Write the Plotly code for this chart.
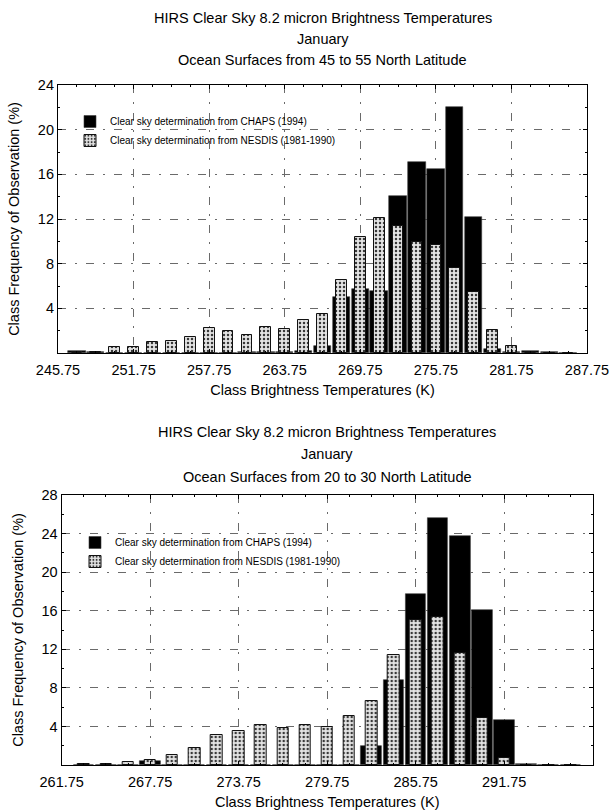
import plotly.graph_objects as go

# HIRS clear-sky 8.2 micron brightness temperature class frequencies (%), January, ocean surfaces.
# Class centres are 1.5 K apart.

# 45-55 N
bins_45_55 = [247.25, 248.75, 250.25, 251.75, 253.25, 254.75, 256.25, 257.75, 259.25,
              260.75, 262.25, 263.75, 265.25, 266.75, 268.25, 269.75, 271.25, 272.75,
              274.25, 275.75, 277.25, 278.75, 280.25, 281.75, 283.25, 284.75, 286.25]
chaps_45_55 = [0.15, 0.1, 0.0, 0.0, 0.0, 0.0, 0.0, 0.0, 0.0,
               0.1, 0.1, 0.1, 0.15, 0.6, 5.05, 5.75, 5.55, 14.05,
               17.1, 16.5, 22.0, 12.2, 0.35, 0.05, 0.2, 0.05, 0.0]
nesdis_45_55 = [0.05, 0.05, 0.5, 0.5, 1.0, 1.1, 1.45, 2.2, 1.95,
                1.65, 2.35, 2.15, 3.0, 3.5, 6.5, 10.4, 12.1, 11.35,
                9.95, 9.7, 7.65, 5.45, 2.05, 0.65, 0.1, 0.0, 0.0]

# 20-30 N
bins_20_30 = [263.25, 264.75, 266.25, 267.75, 269.25, 270.75, 272.25, 273.75, 275.25,
              276.75, 278.25, 279.75, 281.25, 282.75, 284.25, 285.75, 287.25, 288.75,
              290.25, 291.75, 293.25, 294.75, 296.25]
chaps_20_30 = [0.0, 0.0, 0.05, 0.4, 0.0, 0.0, 0.0, 0.0, 0.0,
               0.0, 0.0, 0.0, 0.0, 1.95, 8.8, 17.7, 25.6, 23.8,
               16.1, 4.7, 0.1, 0.05, 0.0]
nesdis_20_30 = [0.1, 0.1, 0.35, 0.5, 1.0, 1.75, 3.15, 3.55, 4.1,
                3.85, 4.1, 3.95, 5.05, 6.6, 11.4, 15.05, 15.35, 11.6,
                4.9, 0.75, 0.0, 0.0, 0.0]

xticks_45_55 = [245.75, 251.75, 257.75, 263.75, 269.75, 275.75, 281.75, 287.75]
xticks_20_30 = [261.75, 267.75, 273.75, 279.75, 285.75, 291.75, 297.75]
yticks_45_55 = [4, 8, 12, 16, 20, 24]
yticks_20_30 = [4, 8, 12, 16, 20, 24, 28]

NAME_CHAPS = "Clear sky determination from CHAPS (1994)"
NAME_NESDIS = "Clear sky determination from NESDIS (1981-1990)"
TITLE_1 = "HIRS Clear Sky 8.2 micron Brightness Temperatures"
TITLE_2 = "January"
TITLE_3A = "Ocean Surfaces from 45 to 55 North Latitude"
TITLE_3B = "Ocean Surfaces from 20 to 30 North Latitude"
XTITLE = "Class Brightness Temperatures (K)"
YTITLE = "Class Frequency of Observation (%)"

W, H = 613, 811
FONT = "Liberation Sans, Arial, Helvetica, sans-serif"


def fx(p):
    return p / W


def fy(p):
    return 1 - p / H


DOTS = dict(shape=".", fgcolor="#383838", bgcolor="#e4e4e4", size=4, solidity=0.3)
GRID_DASH = "8px,9px,2px,9px"

panels = [
    dict(x="x", y="y", legend="legend", bins=bins_45_55, chaps=chaps_45_55, nesdis=nesdis_45_55,
         wide=1.38, narrow=0.85),
    dict(x="x2", y="y2", legend="legend2", bins=bins_20_30, chaps=chaps_20_30, nesdis=nesdis_20_30,
         wide=1.40, narrow=0.78),
]

fig = go.Figure()
for p in panels:
    fig.add_trace(go.Bar(
        x=p["bins"], y=p["chaps"], name=NAME_CHAPS, xaxis=p["x"], yaxis=p["y"],
        legend=p["legend"], width=p["wide"],
        marker=dict(color="#000000", line=dict(color="#3a3a3a", width=0.6)),
    ))
    fig.add_trace(go.Bar(
        x=p["bins"], y=p["nesdis"], name=NAME_NESDIS, xaxis=p["x"], yaxis=p["y"],
        legend=p["legend"], width=p["narrow"],
        marker=dict(color="#e4e4e4", pattern=DOTS, line=dict(color="#111111", width=1)),
    ))


def xaxis_style(domain, anchor, ticks, minor0):
    return dict(
        domain=domain, anchor=anchor, range=[ticks[0], ticks[-1]],
        tickvals=ticks, tickformat=".2f", ticklabelstandoff=3,
        ticks="inside", ticklen=4, tickcolor="#000", mirror="allticks",
        showline=True, linecolor="#000", linewidth=1.2,
        showgrid=True, gridcolor="#6a6a6a", gridwidth=0.8, griddash=GRID_DASH,
        minor=dict(tick0=minor0, dtick=1.5, ticks="inside", ticklen=2, tickcolor="#000", showgrid=False),
        zeroline=False, automargin=False,
        tickfont=dict(family=FONT, size=14.5, color="#000"),
        title=dict(text=XTITLE, standoff=8, font=dict(family=FONT, size=14.5, color="#000")),
    )


def yaxis_style(domain, anchor, ticks):
    return dict(
        domain=domain, anchor=anchor, range=[0, ticks[-1]],
        tickvals=ticks, ticks="inside", ticklen=4, tickcolor="#000", mirror="allticks",
        showline=True, linecolor="#000", linewidth=1.2,
        showgrid=True, gridcolor="#6a6a6a", gridwidth=0.8, griddash=GRID_DASH,
        minor=dict(tick0=0, dtick=2, ticks="inside", ticklen=2, tickcolor="#000", showgrid=False),
        zeroline=False, automargin=False,
        tickfont=dict(family=FONT, size=14.5, color="#000"),
        title=dict(text=YTITLE, font=dict(family=FONT, size=14.5, color="#000")),
    )


# plot frames in pixels: (left, right, top, bottom)
TOP = (58, 587, 85, 353)
BOT = (61.7, 592.7, 495, 765)

fig.update_layout(
    width=W, height=H, margin=dict(l=0, r=0, t=0, b=0),
    template="none", paper_bgcolor="white", plot_bgcolor="white",
    barmode="overlay", bargap=0,
    font=dict(family=FONT, color="#000"),
    xaxis=xaxis_style([fx(TOP[0]), fx(TOP[1])], "y", xticks_45_55, bins_45_55[0]),
    yaxis=yaxis_style([fy(TOP[3]), fy(TOP[2])], "x", yticks_45_55),
    xaxis2=xaxis_style([fx(BOT[0]), fx(BOT[1])], "y2", xticks_20_30, bins_20_30[0]),
    yaxis2=yaxis_style([fy(BOT[3]), fy(BOT[2])], "x2", yticks_20_30),
    legend=dict(x=fx(70), y=fy(131), xanchor="left", yanchor="middle",
                bgcolor="rgba(0,0,0,0)", font=dict(family=FONT, size=10, color="#000"),
                tracegroupgap=0),
    legend2=dict(x=fx(75), y=fy(552), xanchor="left", yanchor="middle",
                 bgcolor="rgba(0,0,0,0)", font=dict(family=FONT, size=10, color="#000"),
                 tracegroupgap=0),
)

# three-line headings above each panel
heads = [
    ((TOP[0] + TOP[1]) / 2, [(TITLE_1, 18), (TITLE_2, 39), (TITLE_3A, 60)]),
    ((BOT[0] + BOT[1]) / 2, [(TITLE_1, 432), (TITLE_2, 454), (TITLE_3B, 477)]),
]
for cx, lines in heads:
    for text, ypx in lines:
        fig.add_annotation(
            text=text, xref="paper", yref="paper", x=fx(cx), y=fy(ypx),
            xanchor="center", yanchor="middle", showarrow=False,
            font=dict(family=FONT, size=14.5, color="#000"),
        )

fig.write_html("out.html")
